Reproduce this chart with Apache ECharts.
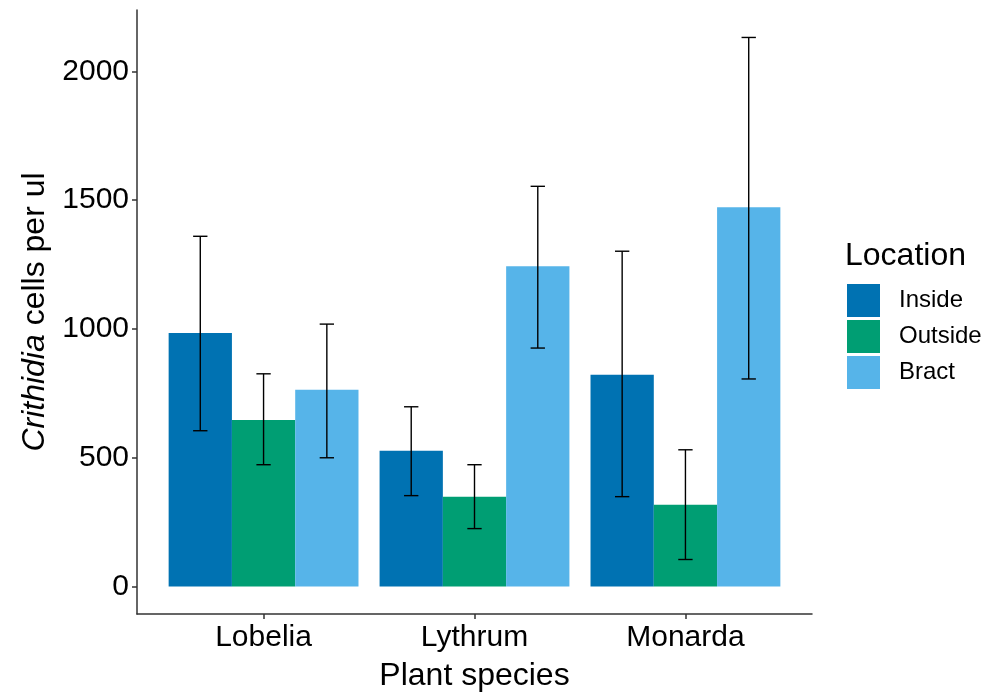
<!DOCTYPE html>
<html>
<head>
<meta charset="utf-8">
<script src="https://cdn.jsdelivr.net/npm/echarts@6/dist/echarts.min.js"></script>
<style>html,body{margin:0;padding:0;background:#fff;}#c{width:989px;height:693px;}</style>
</head>
<body>
<div id="c"></div>
<script>
const categories = ['Lobelia', 'Lythrum', 'Monarda'];
const locations = ['Inside', 'Outside', 'Bract'];
const insideMean = [984, 527, 822];
const insideLow = [605, 353, 349];
const insideHigh = [1360, 698, 1302];
const outsideMean = [647, 349, 318];
const outsideLow = [473, 225, 105];
const outsideHigh = [826, 473, 531];
const bractMean = [764, 1244, 1473];
const bractLow = [500, 926, 806];
const bractHigh = [1019, 1554, 2132];
const yTicks = [0, 500, 1000, 1500, 2000];
const colors = ['#0072B2', '#009E73', '#56B4E9'];

const means = [insideMean, outsideMean, bractMean];
const lows = [insideLow, outsideLow, bractLow];
const highs = [insideHigh, outsideHigh, bractHigh];
const offsets = [-0.3, 0, 0.3];
const halfBar = 0.15;
const halfCap = 0.034;

const allHigh = Math.max(...highs.flat());
const yRange = allHigh - 0;
const yMin = -0.05 * yRange;
const yMax = allHigh + 0.05 * yRange;

const font = "'Liberation Sans', Arial, sans-serif";

const series = [];
locations.forEach((loc, k) => {
  series.push({
    name: loc,
    type: 'custom',
    itemStyle: { color: colors[k] },
    data: categories.map((c, i) => [i + 1, means[k][i]]),
    encode: { x: 0, y: 1 },
    renderItem: function (params, api) {
      const x = api.value(0) + offsets[k];
      const y = api.value(1);
      const p1 = api.coord([x - halfBar, y]);
      const p0 = api.coord([x + halfBar, 0]);
      return {
        type: 'rect',
        shape: { x: p1[0], y: p1[1], width: p0[0] - p1[0], height: p0[1] - p1[1] },
        style: { fill: colors[k] }
      };
    },
    z: 2
  });
});
locations.forEach((loc, k) => {
  series.push({
    name: loc + ' error',
    type: 'custom',
    data: categories.map((c, i) => [i + 1, lows[k][i], highs[k][i]]),
    encode: { x: 0, y: [1, 2] },
    renderItem: function (params, api) {
      const x = api.value(0) + offsets[k];
      const lo = api.value(1);
      const hi = api.value(2);
      const top = api.coord([x, hi]);
      const bot = api.coord([x, lo]);
      const tl = api.coord([x - halfCap, hi]);
      const tr = api.coord([x + halfCap, hi]);
      const bl = api.coord([x - halfCap, lo]);
      const br = api.coord([x + halfCap, lo]);
      const st = { stroke: '#000', lineWidth: 1.4 };
      return {
        type: 'group',
        children: [
          { type: 'line', shape: { x1: top[0], y1: top[1], x2: bot[0], y2: bot[1] }, style: st },
          { type: 'line', shape: { x1: tl[0], y1: tl[1], x2: tr[0], y2: tr[1] }, style: st },
          { type: 'line', shape: { x1: bl[0], y1: bl[1], x2: br[0], y2: br[1] }, style: st }
        ]
      };
    },
    z: 5
  });
});

const chart = echarts.init(document.getElementById('c'));
chart.setOption({
  animation: false,
  backgroundColor: '#fff',
  textStyle: { fontFamily: font },
  title: {
    text: 'Location',
    left: 845,
    top: 240,
    padding: 0,
    textStyle: { fontFamily: font, fontSize: 32, fontWeight: 'normal', color: '#000' }
  },
  legend: {
    data: locations,
    orient: 'vertical',
    left: 847,
    top: 284,
    padding: 0,
    icon: 'rect',
    itemWidth: 33,
    itemHeight: 33,
    itemGap: 3,
    textStyle: { fontFamily: font, fontSize: 24, color: '#000', padding: [0, 0, 0, 14] }
  },
  grid: { left: 137, right: 177, top: 10, bottom: 79, containLabel: false, outerBoundsMode: 'none' },
  xAxis: {
    type: 'value',
    min: 0.4,
    max: 3.6,
    name: 'Plant species',
    nameLocation: 'middle',
    nameGap: 46,
    nameTextStyle: { fontFamily: font, fontSize: 32, color: '#000' },
    axisLine: { show: true, onZero: false, lineStyle: { color: '#333', width: 1.5 } },
    axisTick: { show: true, length: 5, customValues: [1, 2, 3], lineStyle: { color: '#333', width: 1.5 } },
    axisLabel: {
      customValues: [1, 2, 3],
      formatter: v => categories[Math.round(v) - 1],
      fontFamily: font, fontSize: 30, color: '#000', margin: 9
    },
    splitLine: { show: false }
  },
  yAxis: {
    type: 'value',
    min: yMin,
    max: yMax,
    name: '{i|Crithidia} cells per ul',
    nameLocation: 'middle',
    nameGap: 81,
    nameTextStyle: {
      fontFamily: font, fontSize: 32, color: '#000',
      rich: { i: { fontFamily: font, fontSize: 32, fontStyle: 'italic', color: '#000' } }
    },
    axisLine: { show: true, onZero: false, lineStyle: { color: '#333', width: 1.5 } },
    axisTick: { show: true, length: 5, customValues: yTicks, lineStyle: { color: '#333', width: 1.5 } },
    axisLabel: { customValues: yTicks, formatter: v => String(v), fontFamily: font, fontSize: 30, color: '#000', margin: 8 },
    splitLine: { show: false }
  },
  series: series
});
</script>
</body>
</html>
